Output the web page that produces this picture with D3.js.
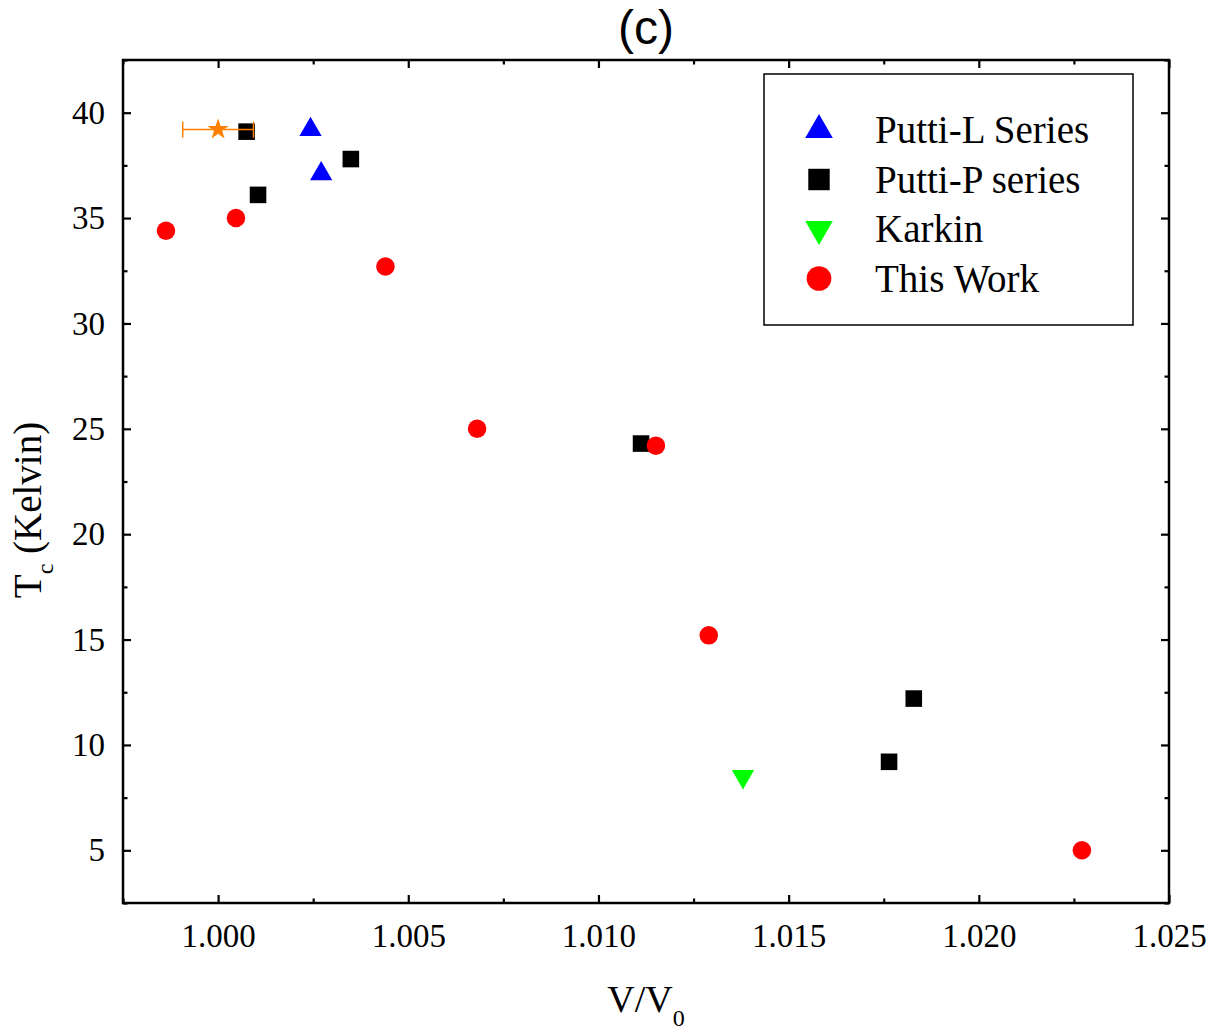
<!DOCTYPE html>
<html>
<head>
<meta charset="utf-8">
<script src="https://cdn.jsdelivr.net/npm/d3@7"></script>
<style>
  body { margin: 0; background: #fff; }
  svg text { font-family: "Liberation Serif", "Times New Roman", serif; }
</style>
</head>
<body>
<div id="chart"></div>
<script>
// values
const puttiLX = [1.00243, 1.00271];
const puttiLY = [39.2, 37.1];
const puttiPX = [1.00075, 1.00105, 1.00349, 1.01112, 1.01764, 1.01829];
const puttiPY = [39.1, 36.1, 37.8, 24.3, 9.2, 12.2];
const karkinX = [1.0138];
const karkinY = [8.5];
const thisWorkX = [0.99863, 1.00047, 1.00440, 1.00681, 1.01151, 1.0129, 1.02271];
const thisWorkY = [34.4, 35.0, 32.7, 25.0, 24.2, 15.2, 5.0];
const starX = [1.0000];
const starY = [39.2];
const starErr = [0.00093];

const xTicks = [1.000, 1.005, 1.010, 1.015, 1.020, 1.025];
const yTicks = [5, 10, 15, 20, 25, 30, 35, 40];

const width = 1223, height = 1034;
const margin = { top: 60, right: 54, bottom: 131, left: 123 };
const w = width - margin.left - margin.right;
const h = height - margin.top - margin.bottom;

const svg = d3.select('#chart').append('svg')
  .attr('width', width)
  .attr('height', height);

const g = svg.append('g')
  .attr('transform', `translate(${margin.left},${margin.top})`);

const x = d3.scaleLinear().domain([0.9975, 1.025]).range([0, w]);
const y = d3.scaleLinear().domain([2.5, 42.5]).range([h, 0]);

const xMinor = d3.range(0.9975, 1.0251, 0.0025).filter(v => !xTicks.some(t => Math.abs(t - v) < 1e-6));
const yMinor = d3.range(2.5, 42.6, 5);

function styleAxis(sel) {
  sel.attr('font-family', 'Liberation Serif').attr('font-size', 33);
  sel.select('.domain').remove();
  sel.selectAll('.tick line').attr('stroke', '#000').attr('stroke-width', 2.2);
  sel.selectAll('.tick text')
    .attr('font-family', 'Liberation Serif')
    .attr('font-size', 33)
    .attr('fill', '#000');
}

// bottom
g.append('g').attr('transform', `translate(0,${h})`)
  .call(d3.axisBottom(x).tickValues(xTicks).tickSize(-8).tickPadding(21).tickFormat(d3.format('.3f')))
  .call(styleAxis);
g.append('g').attr('transform', `translate(0,${h})`)
  .call(d3.axisBottom(x).tickValues(xMinor).tickSize(-4.5).tickFormat(''))
  .call(styleAxis);
// top
g.append('g')
  .call(d3.axisTop(x).tickValues(xTicks).tickSize(-8).tickFormat(''))
  .call(styleAxis);
g.append('g')
  .call(d3.axisTop(x).tickValues(xMinor).tickSize(-4.5).tickFormat(''))
  .call(styleAxis);
// left
g.append('g')
  .call(d3.axisLeft(y).tickValues(yTicks).tickSize(-8).tickPadding(18).tickFormat(d3.format('d')))
  .call(styleAxis);
g.append('g')
  .call(d3.axisLeft(y).tickValues(yMinor).tickSize(-4.5).tickFormat(''))
  .call(styleAxis);
// right
g.append('g').attr('transform', `translate(${w},0)`)
  .call(d3.axisRight(y).tickValues(yTicks).tickSize(-8).tickFormat(''))
  .call(styleAxis);
g.append('g').attr('transform', `translate(${w},0)`)
  .call(d3.axisRight(y).tickValues(yMinor).tickSize(-4.5).tickFormat(''))
  .call(styleAxis);

// frame
g.append('rect')
  .attr('width', w).attr('height', h)
  .attr('fill', 'none').attr('stroke', '#000').attr('stroke-width', 2.5);

const sym = (type, size) => d3.symbol().type(type).size(size)();

// size = marker area in the plot, lsize = area of the bigger legend swatch
const series = [
  { name: 'Putti-L Series', xs: puttiLX, ys: puttiLY, type: d3.symbolTriangle, size: 215, lsize: 330, color: '#0000ff', rot: 0 },
  { name: 'Putti-P series', xs: puttiPX, ys: puttiPY, type: d3.symbolSquare, size: 275, lsize: 460, color: '#000000', rot: 0 },
  { name: 'Karkin', xs: karkinX, ys: karkinY, type: d3.symbolTriangle, size: 215, lsize: 330, color: '#00ff00', rot: 180 },
  { name: 'This Work', xs: thisWorkX, ys: thisWorkY, type: d3.symbolCircle, size: 270, lsize: 480, color: '#ff0000', rot: 0 }
];

series.forEach(s => {
  g.append('g').selectAll('path')
    .data(s.xs.map((v, i) => [v, s.ys[i]]))
    .enter().append('path')
    .attr('d', sym(s.type, s.size))
    .attr('transform', d => `translate(${x(d[0])},${y(d[1])}) rotate(${s.rot})`)
    .attr('fill', s.color);
});

// orange star with horizontal error bar
const starData = starX.map((v, i) => ({ x: v, y: starY[i], e: starErr[i] }));
const sg = g.append('g');
sg.selectAll('line.err')
  .data(starData).enter().append('line')
  .attr('x1', d => x(d.x - d.e)).attr('x2', d => x(d.x + d.e))
  .attr('y1', d => y(d.y)).attr('y2', d => y(d.y))
  .attr('stroke', '#ff8000').attr('stroke-width', 1.5);
[-1, 1].forEach(sgn => {
  sg.selectAll(null)
    .data(starData).enter().append('line')
    .attr('x1', d => x(d.x + sgn * d.e)).attr('x2', d => x(d.x + sgn * d.e))
    .attr('y1', d => y(d.y) - 8).attr('y2', d => y(d.y) + 8)
    .attr('stroke', '#ff8000').attr('stroke-width', 1.5);
});
sg.selectAll('path')
  .data(starData).enter().append('path')
  .attr('d', sym(d3.symbolStar, 140))
  .attr('transform', d => `translate(${x(d.x)},${y(d.y)})`)
  .attr('fill', '#ff8000');

// legend
const lg = svg.append('g').attr('transform', 'translate(764,74)');
lg.append('rect')
  .attr('width', 369).attr('height', 251)
  .attr('fill', '#fff').attr('stroke', '#000').attr('stroke-width', 1.5);
series.forEach((s, i) => {
  const cy = 56 + i * 49.5;
  lg.append('path')
    .attr('d', sym(s.type, s.lsize))
    .attr('transform', `translate(55,${cy}) rotate(${s.rot})`)
    .attr('fill', s.color);
  lg.append('text')
    .attr('x', 111).attr('y', cy + 13)
    .style('font-size', '39px')
    .text(s.name);
});

// title
svg.append('text')
  .attr('x', margin.left + w / 2).attr('y', 44)
  .attr('text-anchor', 'middle')
  .style('font-family', '"Liberation Sans", Arial, sans-serif')
  .style('font-size', '48px')
  .text('(c)');

// axis titles
const xl = svg.append('text')
  .attr('x', margin.left + w / 2).attr('y', 1012)
  .attr('text-anchor', 'middle')
  .style('font-size', '38px');
xl.append('tspan').text('V/V');
xl.append('tspan').attr('dy', 14).style('font-size', '24px').text('0');

const yl = svg.append('text')
  .attr('transform', 'translate(41,510) rotate(-90)')
  .attr('text-anchor', 'middle')
  .style('font-size', '39px');
yl.append('tspan').text('T');
yl.append('tspan').attr('dy', 12).style('font-size', '24px').text('c');
yl.append('tspan').attr('dy', -12).text(' (Kelvin)');
</script>
</body>
</html>
